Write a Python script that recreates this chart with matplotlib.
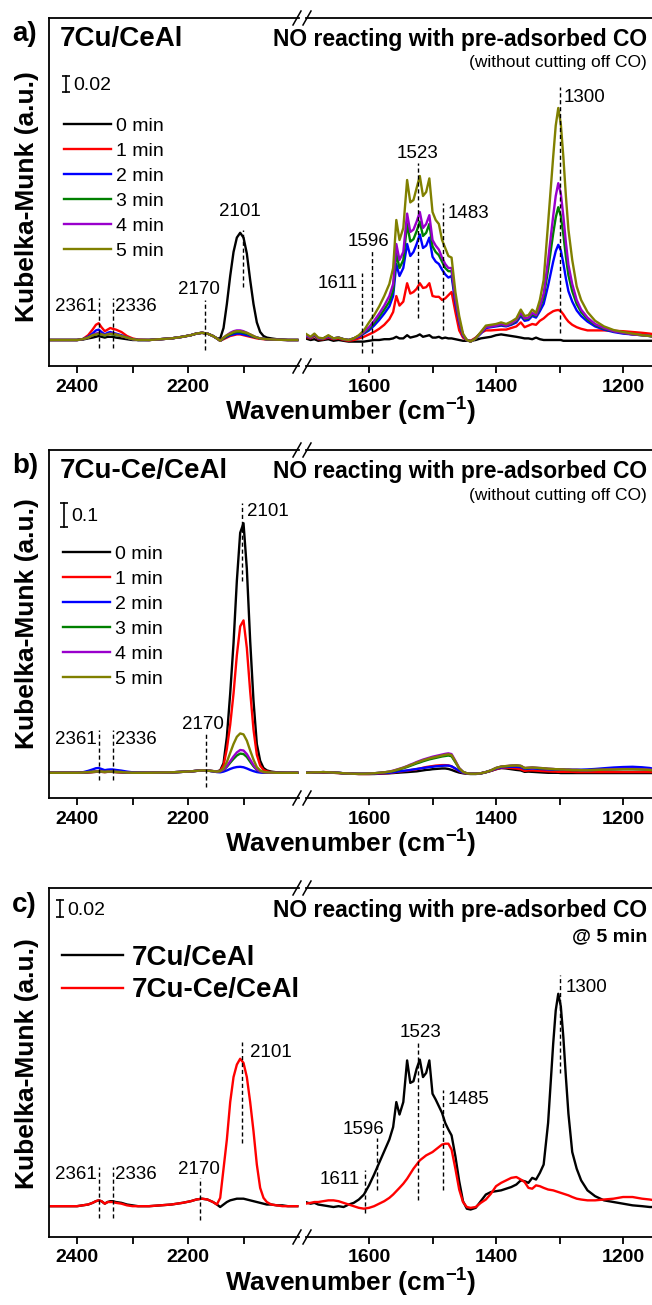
import matplotlib.pyplot as plt
from matplotlib.lines import Line2D

plt.rcParams['font.family'] = ['Liberation Sans', 'DejaVu Sans']
plt.rcParams['mathtext.fontset'] = 'custom'
plt.rcParams['mathtext.rm'] = 'Liberation Sans'
plt.rcParams['mathtext.bf'] = 'Liberation Sans:bold'

# wavenumber grids (cm-1) for the two halves of the broken axis
wn_left = [2450, 2420, 2400, 2390, 2380, 2372, 2366, 2361, 2356, 2350,
           2345, 2340, 2336, 2330, 2320, 2310, 2300, 2290, 2270, 2250,
           2230, 2210, 2195, 2185, 2175, 2165, 2155, 2148, 2142, 2136,
           2130, 2124, 2118, 2112, 2106, 2100, 2094, 2088, 2082, 2076,
           2070, 2064, 2058, 2050, 2040, 2030, 2020, 2003]
wn_right = [1700, 1692, 1686, 1680, 1672, 1664, 1656, 1648, 1640, 1632,
            1624, 1616, 1608, 1600, 1592, 1584, 1576, 1568, 1562, 1557,
            1552, 1546, 1540, 1535, 1530, 1525, 1520, 1515, 1510, 1505,
            1500, 1495, 1490, 1485, 1480, 1475, 1470, 1464, 1458, 1452,
            1446, 1440, 1432, 1424, 1416, 1408, 1400, 1392, 1384, 1376,
            1368, 1361, 1355, 1349, 1343, 1337, 1331, 1325, 1318, 1310,
            1306, 1302, 1298, 1294, 1290, 1286, 1280, 1273, 1266, 1256,
            1244, 1230, 1215, 1200, 1185, 1170, 1158, 1150]

times = ['0 min', '1 min', '2 min', '3 min', '4 min', '5 min']
colors = ['black', '#ff0000', '#0000ff', '#008000', '#9900cc', '#808000']

# ---- a) 7Cu/CeAl, Kubelka-Munk values
a_left_0 = [0, 0, 0, 0.0005, 0.002, 0.003, 0.004, 0.005, 0.004, 0.003,
            0.004, 0.004, 0.004, 0.003, 0.002, 0.001, 0, 0, 0, 0.001,
            0.002, 0.004, 0.006, 0.008, 0.009, 0.008, 0.005, 0.002, 0.002, 0.015,
            0.045, 0.08, 0.11, 0.128, 0.134, 0.128, 0.108, 0.075, 0.045, 0.022,
            0.01, 0.005, 0.003, 0.002, 0.001, 0.0005, 0, 0]
a_left_1 = [0, 0, 0, 0.001, 0.006, 0.013, 0.019, 0.021, 0.016, 0.011,
            0.013, 0.015, 0.014, 0.013, 0.01, 0.005, 0.002, 0.0005, 0, 0.001,
            0.002, 0.004, 0.006, 0.008, 0.009, 0.008, 0.005, 0.002, -0.001, 0.001,
            0.003, 0.005, 0.006, 0.007, 0.007, 0.006, 0.005, 0.004, 0.003, 0.002,
            0.0015, 0.001, 0.0007, 0.0005, 0.0003, 0.0002, 0, 0]
a_left_2 = [0, 0, 0, 0.001, 0.004, 0.008, 0.012, 0.013, 0.01, 0.007,
            0.009, 0.01, 0.009, 0.008, 0.006, 0.003, 0.001, 0, 0, 0.001,
            0.002, 0.004, 0.006, 0.008, 0.009, 0.008, 0.005, 0.002, -0.001, 0.002,
            0.004, 0.006, 0.007, 0.008, 0.008, 0.007, 0.006, 0.005, 0.004, 0.003,
            0.002, 0.0015, 0.001, 0.0007, 0.0004, 0.0002, 0, 0]
a_left_3 = [0, 0, 0, 0.001, 0.003, 0.006, 0.007, 0.008, 0.007, 0.005,
            0.007, 0.008, 0.007, 0.006, 0.005, 0.003, 0.001, 0, 0, 0.001,
            0.002, 0.004, 0.006, 0.008, 0.009, 0.008, 0.005, 0.002, -0.001, 0.002,
            0.005, 0.007, 0.009, 0.01, 0.01, 0.009, 0.008, 0.006, 0.004, 0.003,
            0.002, 0.0015, 0.001, 0.0007, 0.0004, 0.0002, 0, 0]
a_left_4 = [0, 0, 0, 0.001, 0.003, 0.006, 0.008, 0.009, 0.007, 0.006,
            0.007, 0.008, 0.008, 0.007, 0.005, 0.003, 0.001, 0, 0, 0.001,
            0.002, 0.004, 0.006, 0.008, 0.009, 0.008, 0.005, 0.002, -0.001, 0.003,
            0.006, 0.009, 0.011, 0.012, 0.012, 0.011, 0.009, 0.007, 0.005, 0.003,
            0.002, 0.0015, 0.001, 0.0007, 0.0004, 0.0002, 0, 0]
a_left_5 = [0, 0, 0, 0.001, 0.003, 0.006, 0.007, 0.008, 0.007, 0.006,
            0.007, 0.0075, 0.0075, 0.007, 0.005, 0.003, 0.001, 0, 0, 0.001,
            0.002, 0.004, 0.006, 0.008, 0.009, 0.008, 0.005, 0.002, -0.001, 0.003,
            0.006, 0.008, 0.01, 0.011, 0.011, 0.01, 0.009, 0.007, 0.005, 0.003,
            0.002, 0.0015, 0.001, 0.0007, 0.0004, 0.0002, 0, 0]

a_right_0 = [0.002, 0.0, 0.001, -0.001, 0.0, 0.001, -0.001, 0.0, -0.001, -0.002,
             -0.002, -0.002, -0.002, -0.001, 0.0, 0.0, 0.001, 0.001, 0.002, 0.004,
             0.002, 0.002, 0.006, 0.003, 0.004, 0.005, 0.007, 0.004, 0.005, 0.006,
             0.003, 0.003, 0.004, 0.002, 0.003, 0.002, 0.002, 0.001, 0.0, -0.001,
             -0.001, -0.001, 0.0, 0.002, 0.003, 0.004, 0.006, 0.007, 0.006, 0.005,
             0.004, 0.003, 0.002, 0.002, 0.001, 0.003, 0.001, 0.0, 0.0, 0.0,
             0.0, 0.0, 0.0, -0.001, -0.001, -0.001, -0.001, -0.001, -0.001, -0.001,
             -0.001, -0.001, -0.001, -0.001, -0.001, -0.001, -0.001, -0.001]
a_right_1 = [0.004, 0.002, 0.005, 0.001, 0.001, 0.003, 0.001, 0.002, 0.0, -0.001,
             0.0, 0.002, 0.004, 0.007, 0.01, 0.014, 0.019, 0.026, 0.035, 0.055,
             0.043, 0.048, 0.071, 0.058, 0.06, 0.064, 0.071, 0.065, 0.066, 0.071,
             0.055, 0.054, 0.054, 0.05, 0.052, 0.056, 0.06, 0.035, 0.012, 0.003,
             0.0, -0.001, 0.003, 0.009, 0.012, 0.012, 0.0125, 0.013, 0.013, 0.015,
             0.017, 0.022, 0.016, 0.018, 0.02, 0.019, 0.024, 0.027, 0.032, 0.036,
             0.037, 0.0375, 0.036, 0.032, 0.027, 0.023, 0.019, 0.016, 0.014, 0.012,
             0.012, 0.012, 0.0115, 0.011, 0.01, 0.009, 0.008, 0.007]
a_right_2 = [0.005, 0.003, 0.006, 0.002, 0.002, 0.004, 0.002, 0.003, 0.001, 0.0,
             0.002, 0.004, 0.008, 0.012, 0.018, 0.025, 0.033, 0.042, 0.055, 0.095,
             0.08, 0.09, 0.12, 0.105, 0.11, 0.12, 0.132, 0.115, 0.118, 0.128,
             0.104, 0.098, 0.095, 0.088, 0.082, 0.078, 0.08, 0.046, 0.022, 0.005,
             0.0, -0.002, 0.002, 0.008, 0.015, 0.016, 0.017, 0.018, 0.017, 0.019,
             0.022, 0.03, 0.024, 0.025, 0.03, 0.028, 0.036, 0.045, 0.068, 0.098,
             0.111, 0.119, 0.112, 0.096, 0.077, 0.061, 0.048, 0.037, 0.03, 0.023,
             0.017, 0.013, 0.01, 0.008, 0.007, 0.006, 0.005, 0.004]
a_right_3 = [0.005, 0.003, 0.006, 0.002, 0.002, 0.005, 0.002, 0.003, 0.001, 0.0,
             0.002, 0.005, 0.009, 0.014, 0.021, 0.029, 0.038, 0.048, 0.062, 0.108,
             0.09, 0.1, 0.145, 0.123, 0.126, 0.136, 0.148, 0.13, 0.134, 0.145,
             0.117, 0.11, 0.106, 0.098, 0.09, 0.086, 0.086, 0.05, 0.024, 0.006,
             0.0, -0.002, 0.002, 0.009, 0.016, 0.017, 0.018, 0.019, 0.018, 0.02,
             0.024, 0.032, 0.026, 0.027, 0.032, 0.03, 0.04, 0.053, 0.088, 0.133,
             0.153, 0.166, 0.155, 0.132, 0.104, 0.081, 0.061, 0.045, 0.035, 0.026,
             0.019, 0.014, 0.011, 0.009, 0.007, 0.006, 0.005, 0.004]
a_right_4 = [0.006, 0.003, 0.007, 0.002, 0.002, 0.005, 0.002, 0.003, 0.001, 0.0,
             0.002, 0.005, 0.01, 0.016, 0.024, 0.033, 0.043, 0.055, 0.07, 0.12,
             0.1, 0.11, 0.158, 0.135, 0.138, 0.148, 0.16, 0.14, 0.145, 0.156,
             0.125, 0.118, 0.113, 0.103, 0.095, 0.09, 0.09, 0.052, 0.025, 0.006,
             0.0, -0.002, 0.002, 0.009, 0.016, 0.017, 0.018, 0.02, 0.018, 0.021,
             0.025, 0.034, 0.027, 0.028, 0.034, 0.031, 0.042, 0.058, 0.1, 0.155,
             0.18, 0.196, 0.183, 0.155, 0.122, 0.094, 0.07, 0.05, 0.038, 0.028,
             0.02, 0.015, 0.011, 0.009, 0.007, 0.006, 0.005, 0.004]
a_right_5 = [0.008, 0.004, 0.008, 0.003, 0.002, 0.006, 0.002, 0.003, 0.001, 0.0,
             0.002, 0.006, 0.012, 0.022, 0.031, 0.042, 0.055, 0.07, 0.09, 0.15,
             0.125, 0.14, 0.2, 0.172, 0.175, 0.19, 0.205, 0.18, 0.185, 0.202,
             0.16, 0.15, 0.145, 0.125, 0.115, 0.105, 0.103, 0.06, 0.03, 0.008,
             0.0, -0.002, 0.002, 0.01, 0.018, 0.019, 0.02, 0.022, 0.02, 0.023,
             0.027, 0.038, 0.03, 0.031, 0.038, 0.034, 0.05, 0.075, 0.146, 0.229,
             0.268, 0.29, 0.27, 0.229, 0.18, 0.138, 0.1, 0.067, 0.05, 0.035,
             0.024, 0.017, 0.0125, 0.01, 0.008, 0.006, 0.005, 0.004]

# ---- b) 7Cu-Ce/CeAl
b_left_0 = [0, 0, 0, 0.001, 0.002, 0.003, 0.004, 0.005, 0.004, 0.003,
            0.004, 0.004, 0.004, 0.003, 0.002, 0.001, 0, 0, 0, 0.001,
            0.002, 0.004, 0.006, 0.008, 0.01, 0.009, 0.007, 0.006, 0.01, 0.04,
            0.15, 0.33, 0.54, 0.8, 1.0, 1.04, 0.85, 0.55, 0.3, 0.12,
            0.05, 0.02, 0.01, 0.005, 0.002, 0.001, 0, 0]
b_left_1 = [0, 0, 0, 0.001, 0.002, 0.003, 0.004, 0.005, 0.004, 0.003,
            0.004, 0.004, 0.004, 0.003, 0.002, 0.001, 0, 0, 0, 0.001,
            0.002, 0.004, 0.006, 0.008, 0.01, 0.009, 0.007, 0.006, 0.008, 0.03,
            0.1, 0.2, 0.33, 0.49, 0.61, 0.635, 0.52, 0.34, 0.18, 0.075,
            0.03, 0.012, 0.006, 0.003, 0.001, 0, 0, 0]
b_left_2 = [0, 0, 0, 0.002, 0.008, 0.014, 0.019, 0.02, 0.016, 0.011,
            0.013, 0.014, 0.014, 0.012, 0.009, 0.005, 0.002, 0.001, 0, 0.001,
            0.002, 0.004, 0.006, 0.008, 0.01, 0.009, 0.006, 0.003, 0.002, 0.005,
            0.01, 0.016, 0.021, 0.024, 0.025, 0.023, 0.018, 0.012, 0.007, 0.003,
            0.001, 0, 0, 0, 0, 0, 0, 0]
b_left_3 = [0, 0, 0, 0.001, 0.003, 0.004, 0.005, 0.006, 0.005, 0.004,
            0.005, 0.005, 0.005, 0.004, 0.003, 0.001, 0, 0, 0, 0.001,
            0.002, 0.004, 0.006, 0.008, 0.01, 0.009, 0.007, 0.005, 0.006, 0.012,
            0.025, 0.042, 0.058, 0.072, 0.08, 0.078, 0.066, 0.046, 0.027, 0.012,
            0.005, 0.002, 0.001, 0, 0, 0, 0, 0]
b_left_4 = [0, 0, 0, 0.001, 0.003, 0.004, 0.005, 0.006, 0.005, 0.004,
            0.005, 0.005, 0.005, 0.004, 0.003, 0.001, 0, 0, 0, 0.001,
            0.002, 0.004, 0.006, 0.008, 0.01, 0.009, 0.007, 0.005, 0.006, 0.013,
            0.028, 0.048, 0.068, 0.085, 0.095, 0.093, 0.078, 0.055, 0.032, 0.014,
            0.006, 0.002, 0.001, 0, 0, 0, 0, 0]
b_left_5 = [0, 0, 0, 0.001, 0.003, 0.004, 0.005, 0.006, 0.005, 0.004,
            0.005, 0.005, 0.005, 0.004, 0.003, 0.001, 0, 0, 0, 0.001,
            0.002, 0.004, 0.006, 0.008, 0.01, 0.009, 0.007, 0.005, 0.007, 0.018,
            0.045, 0.083, 0.12, 0.15, 0.164, 0.16, 0.134, 0.093, 0.055, 0.024,
            0.01, 0.004, 0.002, 0.001, 0, 0, 0, 0]

b_right_0 = [0.0, 0.0, 0.001, 0.001, 0.001, 0.0, 0.0, -0.001, -0.002, -0.003,
             -0.004, -0.005, -0.005, -0.005, -0.005, -0.004, -0.003, -0.002, -0.001, 0.0,
             0.001, 0.002, 0.003, 0.004, 0.005, 0.006, 0.008, 0.01, 0.012, 0.013,
             0.015, 0.016, 0.017, 0.018, 0.018, 0.016, 0.012, 0.006, 0.001, -0.002,
             -0.004, -0.005, -0.005, -0.003, 0.002, 0.008, 0.015, 0.02, 0.018, 0.015,
             0.012, 0.01, 0.004, 0.005, 0.004, 0.003, 0.002, 0.001, 0.0, 0.0,
             0.0, 0.0, -0.001, -0.001, -0.001, -0.001, -0.001, -0.001, -0.001, -0.001,
             -0.001, -0.001, -0.001, -0.001, -0.001, -0.001, -0.001, -0.001]
b_right_1 = [0.0, 0.0, 0.001, 0.001, 0.001, 0.001, 0.0, -0.001, -0.002, -0.003,
             -0.004, -0.005, -0.005, -0.005, -0.004, -0.003, -0.002, -0.001, 0.001, 0.003,
             0.005, 0.007, 0.009, 0.011, 0.013, 0.015, 0.018, 0.021, 0.024, 0.026,
             0.028, 0.03, 0.031, 0.032, 0.032, 0.031, 0.027, 0.017, 0.007, 0.0,
             -0.003, -0.004, -0.004, -0.002, 0.003, 0.008, 0.015, 0.02, 0.021, 0.02,
             0.018, 0.015, 0.008, 0.01, 0.01, 0.009, 0.008, 0.007, 0.006, 0.005,
             0.005, 0.004, 0.004, 0.004, 0.004, 0.004, 0.004, 0.003, 0.003, 0.003,
             0.003, 0.003, 0.003, 0.003, 0.003, 0.003, 0.003, 0.003]
b_right_2 = [0.0, 0.001, 0.002, 0.002, 0.003, 0.002, 0.001, 0.0, -0.002, -0.003,
             -0.004, -0.004, -0.004, -0.004, -0.003, -0.002, -0.001, 0.0, 0.002, 0.004,
             0.006, 0.008, 0.01, 0.012, 0.014, 0.016, 0.018, 0.02, 0.022, 0.024,
             0.025, 0.027, 0.028, 0.029, 0.03, 0.03, 0.027, 0.018, 0.008, 0.001,
             -0.003, -0.004, -0.004, -0.002, 0.003, 0.009, 0.017, 0.022, 0.024, 0.025,
             0.025, 0.023, 0.016, 0.017, 0.018, 0.017, 0.016, 0.015, 0.014, 0.013,
             0.013, 0.013, 0.013, 0.013, 0.013, 0.013, 0.013, 0.013, 0.013, 0.014,
             0.016, 0.019, 0.022, 0.024, 0.025, 0.023, 0.02, 0.016]
b_right_3 = [0.0, 0.001, 0.002, 0.002, 0.003, 0.002, 0.001, 0.0, -0.002, -0.003,
             -0.004, -0.004, -0.004, -0.003, -0.002, 0.0, 0.002, 0.004, 0.007, 0.01,
             0.014, 0.019, 0.024, 0.029, 0.034, 0.039, 0.043, 0.048, 0.052, 0.056,
             0.059, 0.062, 0.065, 0.068, 0.07, 0.072, 0.069, 0.044, 0.018, 0.004,
             -0.002, -0.004, -0.004, -0.002, 0.003, 0.01, 0.02, 0.025, 0.027, 0.029,
             0.03, 0.028, 0.019, 0.02, 0.021, 0.02, 0.019, 0.018, 0.016, 0.015,
             0.014, 0.014, 0.013, 0.013, 0.012, 0.012, 0.011, 0.011, 0.011, 0.011,
             0.012, 0.013, 0.014, 0.015, 0.015, 0.014, 0.012, 0.01]
b_right_4 = [0.0, 0.001, 0.002, 0.002, 0.003, 0.002, 0.001, 0.0, -0.002, -0.003,
             -0.004, -0.004, -0.004, -0.003, -0.002, 0.0, 0.002, 0.005, 0.009, 0.013,
             0.017, 0.022, 0.028, 0.034, 0.039, 0.045, 0.05, 0.055, 0.059, 0.063,
             0.067, 0.07, 0.073, 0.076, 0.079, 0.081, 0.078, 0.05, 0.02, 0.004,
             -0.002, -0.004, -0.004, -0.002, 0.003, 0.01, 0.02, 0.026, 0.028, 0.03,
             0.031, 0.029, 0.02, 0.021, 0.022, 0.021, 0.02, 0.019, 0.017, 0.016,
             0.015, 0.015, 0.014, 0.014, 0.013, 0.013, 0.012, 0.012, 0.011, 0.011,
             0.012, 0.013, 0.015, 0.016, 0.016, 0.015, 0.013, 0.011]
b_right_5 = [0.0, 0.001, 0.002, 0.002, 0.003, 0.002, 0.001, 0.0, -0.002, -0.003,
             -0.004, -0.004, -0.004, -0.003, -0.002, 0.0, 0.002, 0.005, 0.008, 0.012,
             0.016, 0.021, 0.027, 0.032, 0.037, 0.043, 0.047, 0.052, 0.056, 0.06,
             0.063, 0.066, 0.069, 0.072, 0.075, 0.077, 0.074, 0.047, 0.019, 0.004,
             -0.002, -0.004, -0.004, -0.002, 0.003, 0.01, 0.02, 0.026, 0.028, 0.03,
             0.031, 0.029, 0.02, 0.021, 0.022, 0.021, 0.02, 0.019, 0.017, 0.016,
             0.015, 0.015, 0.014, 0.014, 0.013, 0.013, 0.012, 0.012, 0.011, 0.011,
             0.012, 0.013, 0.014, 0.015, 0.015, 0.014, 0.012, 0.01]

# ---- c) both catalysts at 5 min
samples = ['7Cu/CeAl', '7Cu-Ce/CeAl']
c_left_0 = [0, 0, 0, 0.001, 0.002, 0.004, 0.006, 0.007, 0.006, 0.003,
            0.005, 0.006, 0.006, 0.005, 0.004, 0.002, 0.001, 0, 0, 0.001,
            0.002, 0.004, 0.006, 0.008, 0.009, 0.008, 0.005, 0.002, -0.001, 0.002,
            0.005, 0.007, 0.008, 0.009, 0.009, 0.009, 0.008, 0.007, 0.006, 0.005,
            0.004, 0.003, 0.002, 0.002, 0.001, 0.001, 0, 0]
c_left_1 = [0, 0, 0, 0.001, 0.002, 0.004, 0.006, 0.007, 0.006, 0.003,
            0.005, 0.005, 0.005, 0.004, 0.003, 0.001, 0, 0, 0, 0.001,
            0.002, 0.004, 0.006, 0.008, 0.009, 0.008, 0.005, 0.002, 0.01, 0.045,
            0.08, 0.125, 0.155, 0.17, 0.177, 0.172, 0.155, 0.125, 0.09, 0.05,
            0.022, 0.01, 0.005, 0.002, 0.001, 0, 0, 0]
c_right_0 = [0.005, 0.003, 0.004, 0.002, 0.001, 0.0, -0.001, 0.0, -0.001, 0.002,
             0.004, 0.008, 0.014, 0.025, 0.038, 0.052, 0.066, 0.08, 0.095, 0.125,
             0.11, 0.125, 0.175, 0.148, 0.15, 0.165, 0.176, 0.155, 0.16, 0.175,
             0.135, 0.128, 0.12, 0.112, 0.1, 0.092, 0.085, 0.06, 0.03, 0.006,
             -0.003, -0.004, -0.002, 0.006, 0.014, 0.017, 0.018, 0.019, 0.021, 0.023,
             0.026, 0.031, 0.03, 0.028, 0.034, 0.032, 0.04, 0.05, 0.1, 0.195,
             0.235, 0.255, 0.24, 0.203, 0.155, 0.111, 0.065, 0.045, 0.031, 0.019,
             0.012, 0.007, 0.005, 0.003, 0.001, 0.0, -0.001, -0.001]
c_right_1 = [0.003, 0.004, 0.005, 0.005, 0.006, 0.007, 0.007, 0.006, 0.004, 0.002,
             0.0, -0.002, -0.003, -0.002, 0.0, 0.003, 0.006, 0.01, 0.014, 0.018,
             0.022, 0.027, 0.033, 0.039, 0.045, 0.05, 0.055, 0.058, 0.061, 0.063,
             0.065, 0.068, 0.071, 0.074, 0.075, 0.075, 0.068, 0.045, 0.02, 0.005,
             -0.001, -0.002, -0.001, 0.004, 0.008, 0.015, 0.024, 0.028, 0.031, 0.034,
             0.035, 0.032, 0.029, 0.022, 0.021, 0.025, 0.024, 0.022, 0.02, 0.019,
             0.018, 0.017, 0.016, 0.015, 0.014, 0.013, 0.011, 0.009, 0.008, 0.007,
             0.007, 0.008, 0.009, 0.011, 0.011, 0.009, 0.008, 0.007]

W, H = 652, 1305
LW = 1.7
fig = plt.figure(figsize=(W / 100, H / 100), dpi=100)


def fx(px):
    return px / W


def fy(py):
    return 1 - py / H


def make_pair(top, bottom, ylim):
    h = (bottom - top) / H
    axl = fig.add_axes([fx(49.3), fy(bottom), fx(299) - fx(49.3), h])
    axr = fig.add_axes([fx(305.5), fy(bottom), fx(654.8) - fx(305.5), h])
    axl.set_xlim(2450, 2000)
    axr.set_xlim(1700, 1150)
    axl.set_xticks([2400, 2200])
    axl.set_xticks([2300, 2100], minor=True)
    axr.set_xticks([1600, 1400, 1200])
    axr.set_xticks([1500, 1300], minor=True)
    for ax in (axl, axr):
        ax.set_ylim(*ylim)
        ax.set_yticks([])
        ax.tick_params(axis='x', which='both', direction='out', length=5,
                       width=1.3, pad=4, labelsize=14)
        plt.setp(ax.get_xticklabels(), fontweight='bold')
        for s in ax.spines.values():
            s.set_linewidth(1.3)
    axl.spines['right'].set_visible(False)
    axr.spines['left'].set_visible(False)
    # axis break marks
    for y in (top, bottom):
        for x in (297, 307):
            fig.add_artist(Line2D([fx(x - 4), fx(x + 4)], [fy(y + 7), fy(y - 7)],
                                  color='k', lw=1.1))
    return axl, axr


def mark(ax, x, y0, y1, text, tx, ty, ha):
    ax.plot([x, x], [y0, y1], color='k', lw=1.0, ls=(0, (3, 2)), zorder=5)
    ax.text(tx, ty, text, ha=ha, va='center_baseline', fontsize=13.5)


def scale_bar(ax, x, y0, size, text, tx):
    ax.plot([x, x], [y0, y0 + size], color='k', lw=1.2, marker='_', ms=6, mew=1.2)
    ax.text(tx, y0 + size / 2, text, ha='left', va='center_baseline', fontsize=14)


def frame_text(letter, title, base, sub, sub_base, sub_bold=False, sub_size=12.5):
    fig.text(fx(12), fy(base - 5), letter, fontsize=20, fontweight='bold')
    if title:
        fig.text(fx(60), fy(base), title, fontsize=20, fontweight='bold')
    fig.text(fx(647), fy(base), 'NO reacting with pre-adsorbed CO', fontsize=16.5,
             fontweight='bold', ha='right')
    fig.text(fx(647), fy(sub_base), sub, fontsize=sub_size, ha='right',
             fontweight='bold' if sub_bold else 'normal')


def axis_labels(bottom, ycenter):
    fig.text(fx(351), fy(bottom + 54), r'Wavenumber (cm$^{\mathbf{-1}}$)', fontsize=19,
             fontweight='bold', ha='center', va='baseline')
    fig.text(fx(27), fy(ycenter), 'Kubelka-Munk (a.u.)', fontsize=19, fontweight='bold',
             rotation=90, ha='center', va='center')


# ---------------- panel a
axl, axr = make_pair(18, 366, (-0.0325, 0.4025))
for i, (yl, yr) in enumerate(zip([a_left_0, a_left_1, a_left_2, a_left_3, a_left_4, a_left_5],
                                 [a_right_0, a_right_1, a_right_2, a_right_3, a_right_4, a_right_5])):
    axl.plot(wn_left, yl, color=colors[i], lw=LW)
    axr.plot(wn_right, yr, color=colors[i], lw=LW)
mark(axl, 2361, -0.01, 0.0525, '2361', 2364, 0.044, 'right')
mark(axl, 2336, -0.01, 0.0525, '2336', 2332, 0.044, 'left')
mark(axl, 2170, -0.0125, 0.05, '2170', 2180, 0.065, 'center')
mark(axl, 2101, 0.066, 0.1375, '2101', 2106, 0.1625, 'center')
mark(axr, 1611, -0.016, 0.084, '1611', 1617, 0.0725, 'right')
mark(axr, 1596, -0.016, 0.1125, '1596', 1601, 0.125, 'center')
mark(axr, 1523, 0.0275, 0.221, '1523', 1523, 0.235, 'center')
mark(axr, 1483, 0.0125, 0.171, '1483', 1476, 0.16, 'left')
mark(axr, 1300, 0.009, 0.316, '1300', 1294, 0.306, 'left')
scale_bar(axl, 2420, 0.31, 0.02, '0.02', 2407)
handles = [Line2D([], [], color=c, lw=LW) for c in colors]
axl.legend(handles, times, loc='upper left', bbox_to_anchor=(fx(64), fy(117)),
           bbox_transform=fig.transFigure, frameon=False, fontsize=14, borderpad=0,
           borderaxespad=0, handlelength=2.42, handletextpad=0.26, labelspacing=0.38)
frame_text('a)', '7Cu/CeAl', 45.7, '(without cutting off CO)', 66.7)
axis_labels(366, 197)

# ---------------- panel b
axl, axr = make_pair(450, 798, (-0.105, 1.345))
for i, (yl, yr) in enumerate(zip([b_left_0, b_left_1, b_left_2, b_left_3, b_left_4, b_left_5],
                                 [b_right_0, b_right_1, b_right_2, b_right_3, b_right_4, b_right_5])):
    axl.plot(wn_left, yl, color=colors[i], lw=LW)
    axr.plot(wn_right, yr, color=colors[i], lw=LW)
mark(axl, 2361, -0.03, 0.178, '2361', 2364, 0.149, 'right')
mark(axl, 2336, -0.03, 0.178, '2336', 2332, 0.149, 'left')
mark(axl, 2168, -0.06, 0.17, '2170', 2174, 0.211, 'center')
mark(axl, 2103, 0.8, 1.125, '2101', 2093, 1.095, 'left')
scale_bar(axl, 2423, 1.025, 0.1, '0.1', 2410)
axl.legend(handles, times, loc='upper left', bbox_to_anchor=(fx(63), fy(545)),
           bbox_transform=fig.transFigure, frameon=False, fontsize=14, borderpad=0,
           borderaxespad=0, handlelength=2.42, handletextpad=0.26, labelspacing=0.38)
frame_text('b)', '7Cu-Ce/CeAl', 478, '(without cutting off CO)', 500)
axis_labels(798, 624)

# ---------------- panel c
axl, axr = make_pair(888, 1237, (-0.037, 0.382))
for i, (yl, yr) in enumerate(zip([c_left_0, c_left_1], [c_right_0, c_right_1])):
    axl.plot(wn_left, yl, color=colors[i], lw=LW)
    axr.plot(wn_right, yr, color=colors[i], lw=LW)
mark(axl, 2361, -0.0144, 0.047, '2361', 2364, 0.04, 'right')
mark(axl, 2336, -0.0144, 0.047, '2336', 2332, 0.04, 'left')
mark(axl, 2178, -0.017, 0.034, '2170', 2180, 0.047, 'center')
mark(axl, 2103, 0.076, 0.197, '2101', 2089, 0.187, 'left')
mark(axr, 1606, -0.008, 0.043, '1611', 1614, 0.034, 'right')
mark(axr, 1588, 0.019, 0.082, '1596', 1609, 0.095, 'center')
mark(axr, 1523, 0.007, 0.196, '1523', 1519, 0.211, 'center')
mark(axr, 1484, 0.019, 0.139, '1485', 1476, 0.13, 'left')
mark(axr, 1300, 0.16, 0.277, '1300', 1291, 0.265, 'left')
scale_bar(axl, 2431, 0.347, 0.02, '0.02', 2418)
handles_c = [Line2D([], [], color=c, lw=LW) for c in colors[:2]]
axl.legend(handles_c, samples, loc='upper left', bbox_to_anchor=(fx(62), fy(945)),
           bbox_transform=fig.transFigure, frameon=False, borderpad=0,
           borderaxespad=0, handlelength=2.2, handletextpad=0.32, labelspacing=0.225,
           prop={'size': 20, 'weight': 'bold'})
frame_text('c)', None, 916.7, '@ 5 min', 941.7, sub_bold=True, sub_size=14)
axis_labels(1237, 1064)

fig.savefig('out.png', dpi=100)
